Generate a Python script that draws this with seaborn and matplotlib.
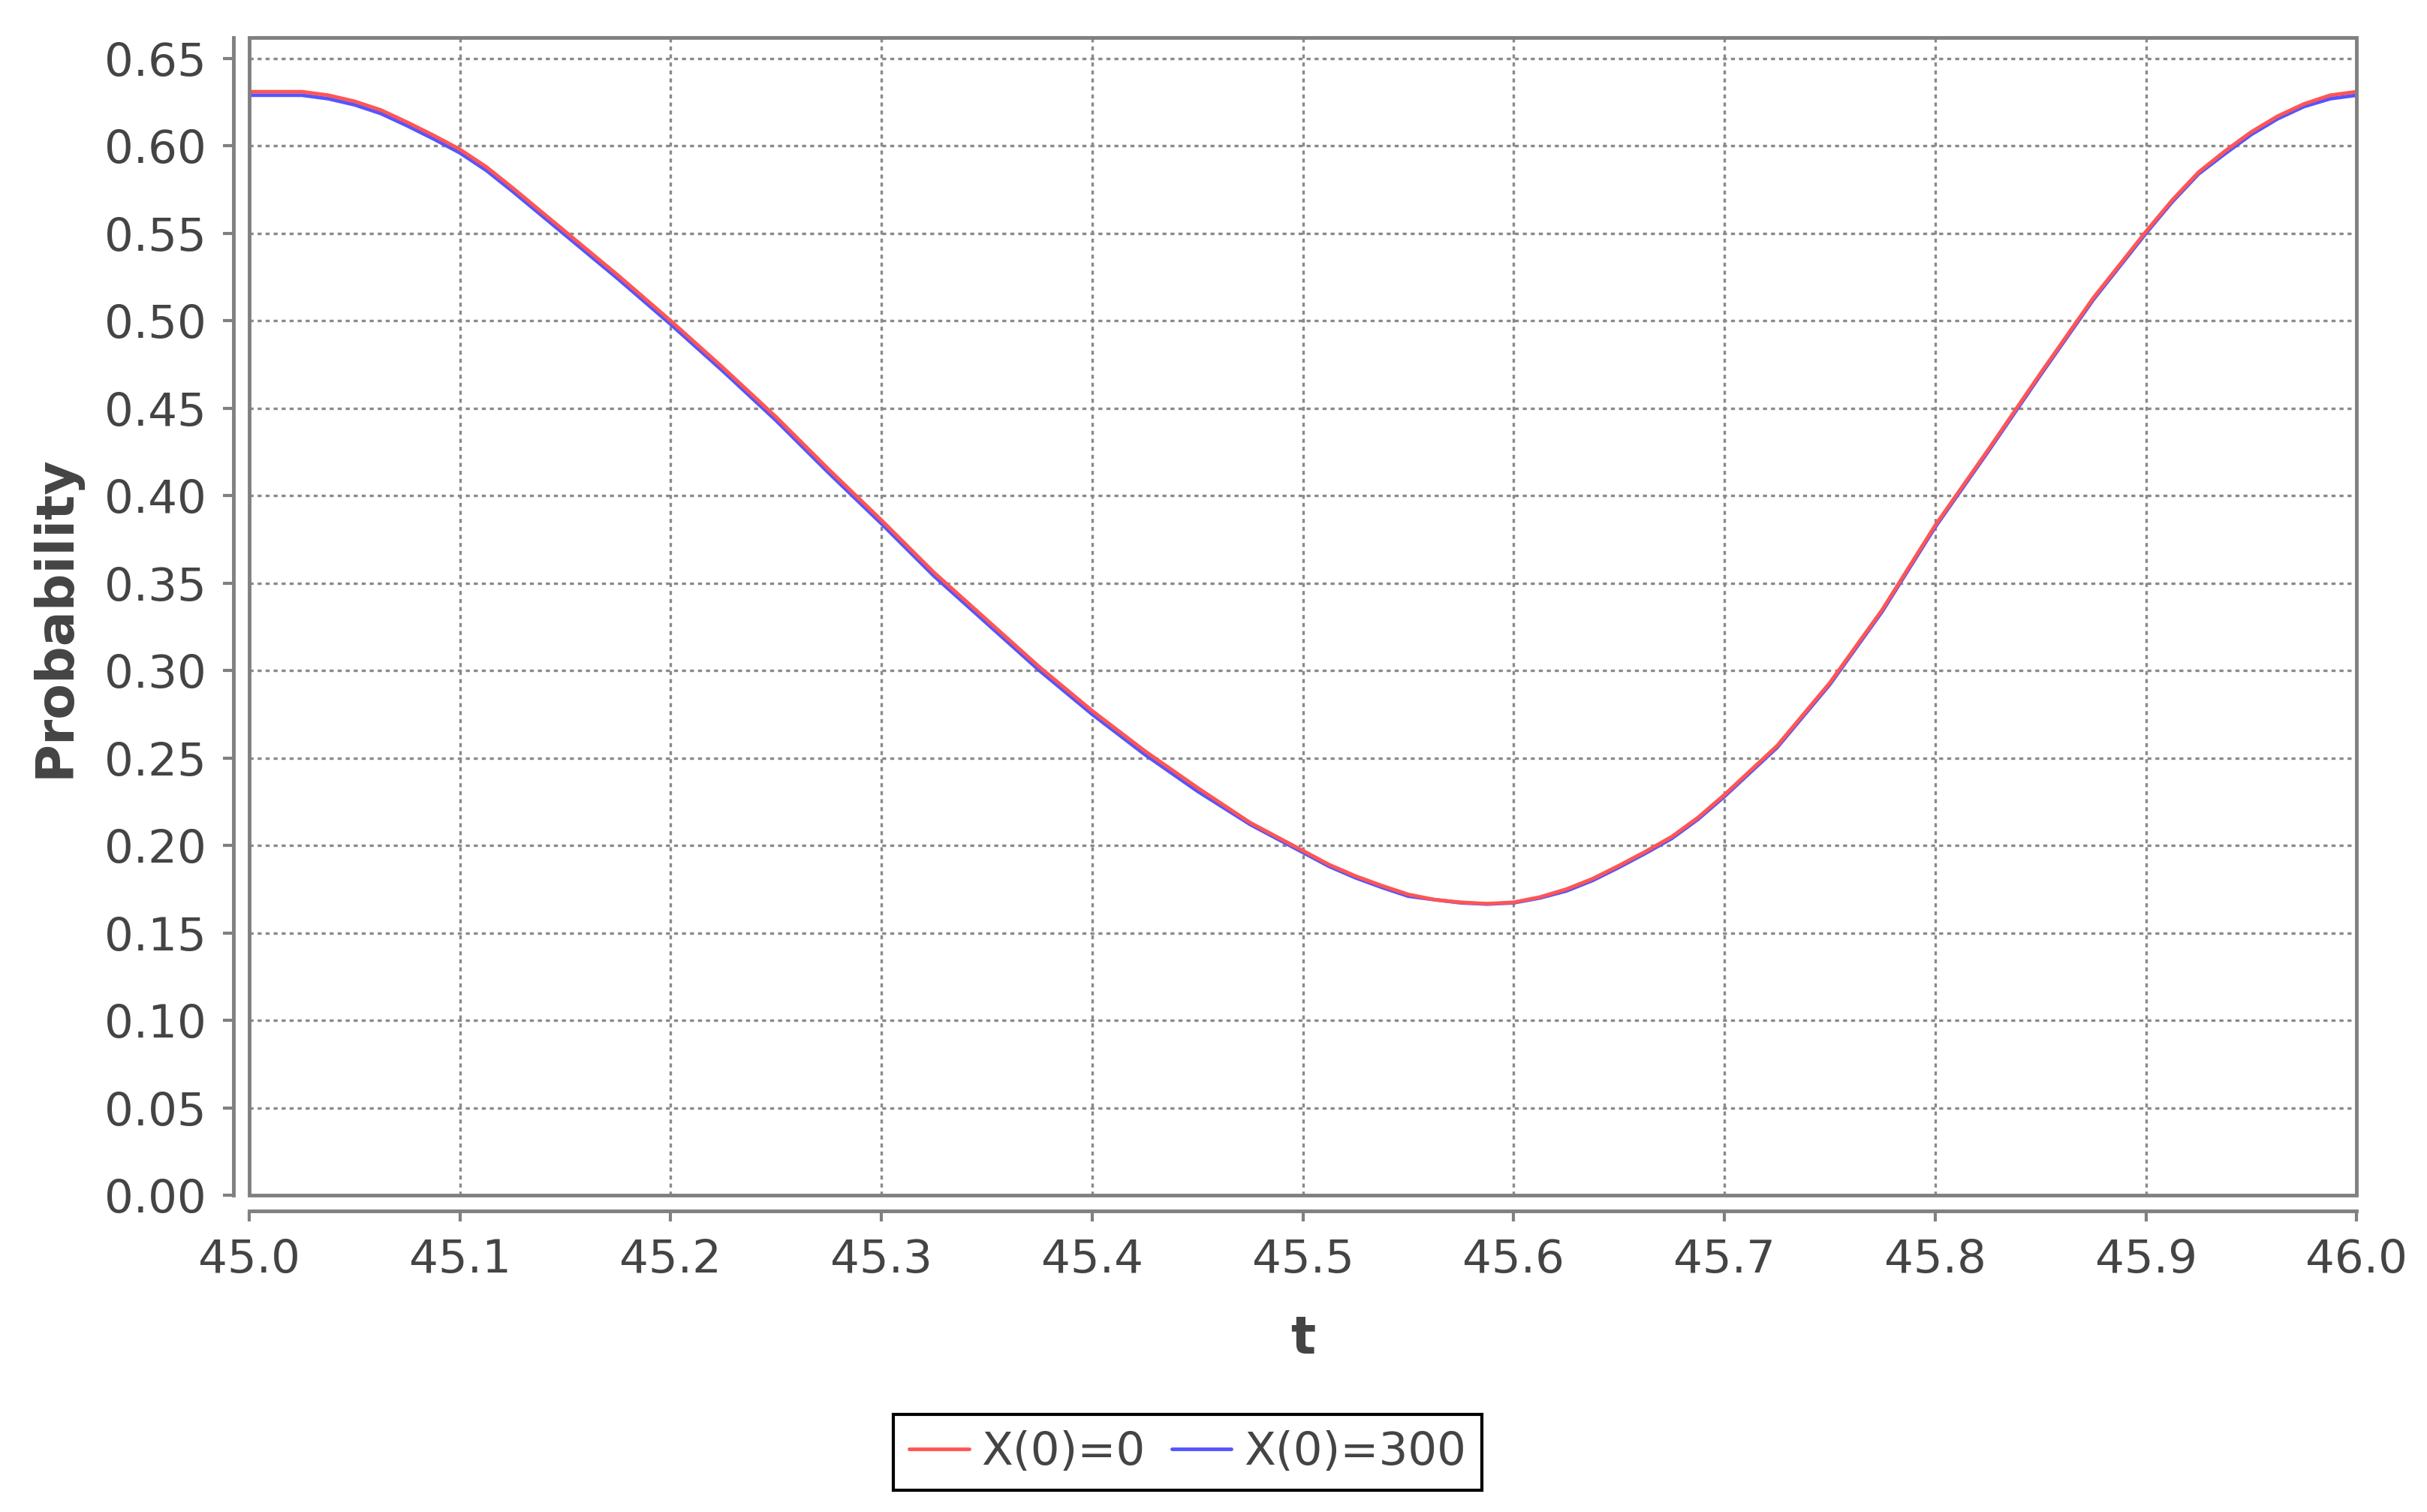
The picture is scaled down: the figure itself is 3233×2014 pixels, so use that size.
import numpy as np
import pandas as pd
import seaborn as sns
import matplotlib.pyplot as plt
from matplotlib.patches import Rectangle

# values
t = [45.0, 45.0125, 45.025, 45.0375, 45.05, 45.0625, 45.075, 45.0875, 45.1,
     45.1125, 45.125, 45.15, 45.175, 45.2, 45.225, 45.25, 45.275, 45.3,
     45.325, 45.35, 45.375, 45.4, 45.425, 45.45, 45.475, 45.5, 45.5125,
     45.525, 45.5375, 45.55, 45.5625, 45.575, 45.5875, 45.6, 45.6125, 45.625,
     45.6375, 45.65, 45.6625, 45.675, 45.6875, 45.7, 45.725, 45.75, 45.775,
     45.8, 45.825, 45.85, 45.875, 45.9, 45.9125, 45.925, 45.9375, 45.95,
     45.9625, 45.975, 45.9875, 46.0]
p_x0 = [0.631, 0.631, 0.631, 0.629, 0.6255, 0.6205, 0.6135, 0.606, 0.598,
        0.588, 0.576, 0.551, 0.526, 0.500, 0.473, 0.445, 0.415, 0.386,
        0.356, 0.329, 0.302, 0.277, 0.254, 0.233, 0.213, 0.197, 0.189,
        0.1825, 0.177, 0.172, 0.169, 0.1675, 0.1667, 0.1675, 0.1705, 0.175,
        0.181, 0.1885, 0.1965, 0.205, 0.216, 0.229, 0.257, 0.293, 0.335,
        0.383, 0.426, 0.470, 0.513, 0.551, 0.569, 0.585, 0.597, 0.608,
        0.617, 0.624, 0.629, 0.631]
p_x300 = [0.629, 0.629, 0.629, 0.627, 0.6235, 0.6185, 0.6115, 0.604, 0.596,
          0.586, 0.574, 0.549, 0.524, 0.498, 0.471, 0.443, 0.413, 0.384,
          0.354, 0.327, 0.300, 0.275, 0.252, 0.231, 0.212, 0.196, 0.188,
          0.1815, 0.176, 0.171, 0.169, 0.1672, 0.1665, 0.1672, 0.170, 0.174,
          0.180, 0.1875, 0.1955, 0.204, 0.215, 0.228, 0.256, 0.292, 0.334,
          0.382, 0.425, 0.469, 0.512, 0.550, 0.568, 0.584, 0.5955, 0.6065,
          0.6155, 0.6225, 0.627, 0.629]
series = ["X(0)=0", "X(0)=300"]
colors = {"X(0)=0": "#FF5555", "X(0)=300": "#5555FF"}
yticks = [0.00, 0.05, 0.10, 0.15, 0.20, 0.25, 0.30, 0.35, 0.40, 0.45, 0.50, 0.55, 0.60, 0.65]
xticks = [45.0, 45.1, 45.2, 45.3, 45.4, 45.5, 45.6, 45.7, 45.8, 45.9, 46.0]

df = pd.DataFrame({
    "t": t + t,
    "Probability": p_x0 + p_x300,
    "series": [series[0]] * len(t) + [series[1]] * len(t),
})

sns.set_theme(style="white")
plt.rcParams["font.family"] = ["DejaVu Sans"]

fig = plt.figure(figsize=(32.33, 20.14), dpi=100)
ax = fig.add_axes([0.1027, 0.2095, 0.8683, 0.7657])

# blue first so the red one sits on top
sns.lineplot(data=df, x="t", y="Probability", hue="series",
             hue_order=["X(0)=300", "X(0)=0"], palette=colors,
             linewidth=3.5, ax=ax, legend=True)

ax.set_xlim(45.0, 46.0)
ax.set_ylim(0, 0.662)
ax.set_xticks(xticks)
ax.set_xticklabels([f"{v:.1f}" for v in xticks])
ax.set_yticks(yticks)
ax.set_yticklabels([f"{v:.2f}" for v in yticks])

grey = "#808080"
ax.grid(True, color="#8a8a8a", linewidth=2.4, linestyle=(0, (1.6, 1.6)))
ax.set_axisbelow(True)

for s in ["top", "right"]:
    ax.spines[s].set_visible(False)
for s in ["left", "bottom"]:
    ax.spines[s].set_color(grey)
    ax.spines[s].set_linewidth(3.5)
    ax.spines[s].set_position(("outward", 15))
ax.add_patch(Rectangle((0, 0), 1, 1, transform=ax.transAxes, fill=False,
                       edgecolor=grey, linewidth=3.5, clip_on=False, zorder=5))

ax.tick_params(axis="both", which="major", direction="out", length=10, width=3,
               color=grey, labelsize=44, labelcolor="#444444", pad=16,
               left=True, bottom=True)

ax.set_ylabel("Probability", fontsize=50, fontweight="bold", color="#444444",
              va="center")
ax.yaxis.set_label_coords(-0.0919, 0.5)
ax.set_xlabel("t", fontsize=50, fontweight="bold", color="#444444", va="top")
ax.xaxis.set_label_coords(0.5, -0.1025)

handles, labels = ax.get_legend_handles_labels()
ax.get_legend().remove()
order = [labels.index(s) for s in series]
leg = fig.legend([handles[i] for i in order], [labels[i] for i in order],
                 loc="center", bbox_to_anchor=(0.4893, 0.0395), ncol=2,
                 fontsize=44, frameon=True, fancybox=False, framealpha=1,
                 edgecolor="black", handlelength=1.3, handletextpad=0.27,
                 columnspacing=0.58, borderpad=0.35, borderaxespad=0)
leg.get_frame().set_linewidth(3)
for txt in leg.get_texts():
    txt.set_color("#444444")

fig.savefig("out.png", dpi=100)
